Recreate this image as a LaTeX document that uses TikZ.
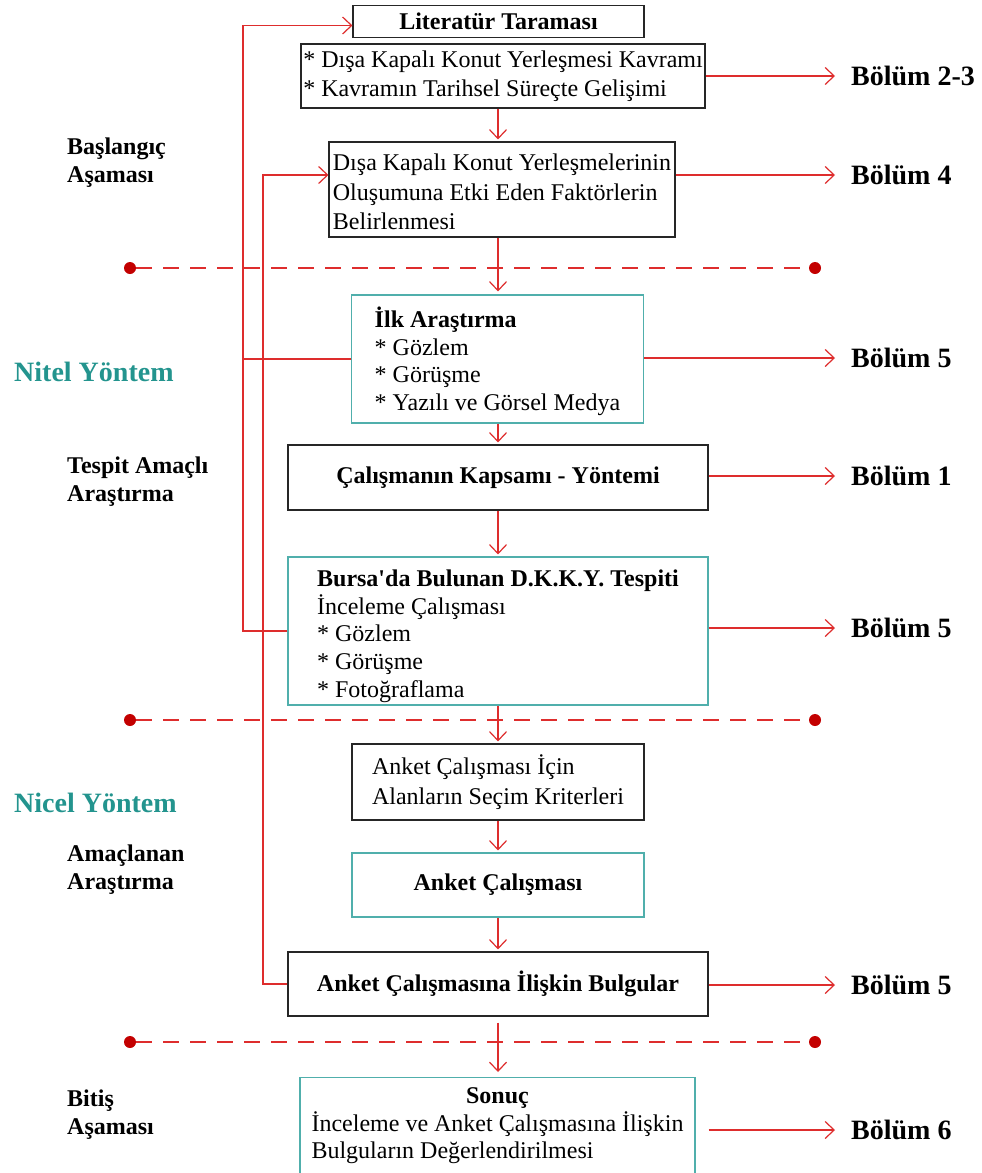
\documentclass[tikz,border=0pt]{standalone}
\usepackage{fontspec}
\setmainfont{Liberation Serif}[Ligatures=TeXOff]
\usetikzlibrary{calc, arrows.meta}
\definecolor{lred}{RGB}{222,45,45}
\definecolor{dred}{RGB}{195,0,0}
\definecolor{tealline}{RGB}{80,175,172}
\definecolor{tealtext}{RGB}{35,148,142}
\tikzset{>={Straight Barb[length=9pt,width=17pt]}}

\begin{document}
\begin{tikzpicture}[
    x = 1pt, y = -1pt,
    box/.style = {draw = black!85, line width = 1.1pt, fill = white, align = left, inner sep = 0pt, font = \fontsize{24}{29.5}\selectfont},
    tbox/.style = {box, draw = tealline, font = \fontsize{24}{27.7}\selectfont},
    bold/.style = {font = \fontsize{24}{29.5}\selectfont\bfseries},
    link/.style = {draw = lred, line width = 1.2pt},
    sep/.style = {draw = lred, line width = 1.2pt, dash pattern = on 16pt off 11pt},
    dot/.style = {circle, fill = dred, inner sep = 0pt, minimum size = 12pt},
    bolum/.style = {anchor = west, inner sep = 0pt, font = \fontsize{28}{30}\selectfont\bfseries},
    phase/.style = {anchor = west, inner sep = 0pt, align = left, font = \fontsize{24}{28}\selectfont\bfseries},
    method/.style = {anchor = west, inner sep = 0pt, text = tealtext, font = \fontsize{28}{30}\selectfont\bfseries},
]
\clip (0,0) rectangle (982,1173);

% column of the vertical arrows, and the two feedback lines
\coordinate (mid) at (498,0);
\coordinate (outer) at (243,0);
\coordinate (inner) at (263,0);

\node[box, bold, minimum width = 291pt, minimum height = 32pt] (lit) at (498.5,21.5) {Literatür Taraması};
\node[box, minimum width = 404pt, minimum height = 64pt] (kav) at (503,76) {* Dışa Kapalı Konut Yerleşmesi Kavramı\\* Kavramın Tarihsel Süreçte Gelişimi};
\node[box, minimum width = 346pt, minimum height = 95pt] (dkf) at (502,189.5) {\rule{0pt}{22pt}Dışa Kapalı Konut Yerleşmelerinin\\Oluşumuna Etki Eden Faktörlerin\\Belirlenmesi};
\node[tbox, minimum width = 292pt, minimum height = 128pt] (ilk) at (497.5,359) {\rule{0pt}{25pt}\textbf{İlk Araştırma}\\* Gözlem\\* Görüşme\\* Yazılı ve Görsel Medya};
\node[box, bold, minimum width = 420pt, minimum height = 65pt] (kap) at (498,477.5) {Çalışmanın Kapsamı - Yöntemi};
\node[tbox, minimum width = 420pt, minimum height = 148pt] (bur) at (498,631) {\rule{0pt}{27pt}\textbf{Bursa'da Bulunan D.K.K.Y. Tespiti}\\İnceleme Çalışması\\* Gözlem\\* Görüşme\\* Fotoğraflama};
\node[box, minimum width = 292pt, minimum height = 76pt] (sec) at (498,782) {Anket Çalışması İçin\\Alanların Seçim Kriterleri};
\node[tbox, bold, minimum width = 292pt, minimum height = 64pt] (ank) at (498,885) {Anket Çalışması};
\node[box, bold, minimum width = 420pt, minimum height = 64pt] (bul) at (498,984) {Anket Çalışmasına İlişkin Bulgular};
\node[tbox, anchor = north, align = center, minimum width = 395pt, inner ysep = 10pt] (son) at (497.5,1077) {\textbf{Sonuç}\\\begin{tabular}[t]{@{}l@{}}İnceleme ve Anket Çalışmasına İlişkin\\Bulguların Değerlendirilmesi\rule[-30pt]{0pt}{30pt}\end{tabular}};

\node[phase] (p1) at (67,163) {Başlangıç\\Aşaması};
\node[method] (m1) at (14,372) {Nitel Yöntem};
\node[phase] (p2) at (67,482) {Tespit Amaçlı\\Araştırma};
\node[method] (m2) at (14,803) {Nicel Yöntem};
\node[phase] (p3) at (67,870) {Amaçlanan\\Araştırma};
\node[phase] (p4) at (67,1115) {Bitiş\\Aşaması};

\node[bolum] (b1) at (851,76) {Bölüm 2-3};
\node[bolum] (b2) at (851,175) {Bölüm 4};
\node[bolum] (b3) at (851,358) {Bölüm 5};
\node[bolum] (b4) at (851,476) {Bölüm 1};
\node[bolum] (b5) at (851,628) {Bölüm 5};
\node[bolum] (b6) at (851,985) {Bölüm 5};
\node[bolum] (b7) at (851,1130) {Bölüm 6};

\node[dot] (d1a) at (130,268) {};
\node[dot] (d1b) at (815,268) {};
\node[dot] (d2a) at (130,720) {};
\node[dot] (d2b) at (815,720) {};
\node[dot] (d3a) at (130,1042) {};
\node[dot] (d3b) at (815,1042) {};
\draw[sep] (d1a) -- (d1b);
\draw[sep] (d2a) -- (d2b);
\draw[sep] (d3a) -- (d3b);

\draw[link, ->, shorten > = 2pt] (kav.south -| mid) -- (dkf.north -| mid);
\draw[link, ->, shorten > = 3pt] (dkf.south -| mid) -- (ilk.north -| mid);
\draw[link, ->, shorten > = 2pt] (ilk.south -| mid) -- (kap.north -| mid);
\draw[link, ->, shorten > = 2pt] (kap.south -| mid) -- (bur.north -| mid);
\draw[link, ->, shorten > = 2pt] (bur.south -| mid) -- (sec.north -| mid);
\draw[link, ->, shorten > = 2pt] (sec.south -| mid) -- (ank.north -| mid);
\draw[link, ->, shorten > = 2pt] (ank.south -| mid) -- (bul.north -| mid);
\draw[link, ->, shorten < = 6pt, shorten > = 5pt] (bul.south -| mid) -- (son.north -| mid);

\draw[link, ->] (bur.west) -- (bur.west -| outer) -- ($(lit.west -| outer)+(0,4)$) -- ($(lit.west)+(0,4)$);
\draw[link] (ilk.west) -- (ilk.west -| outer);
\draw[link, ->] (bul.west) -- (bul.west -| inner) -- (inner |- b2.west) -- (dkf.west |- b2.west);

\draw[link, ->, shorten > = 16pt] (b1.west -| kav.east) -- (b1.west);
\draw[link, ->, shorten > = 16pt] (b2.west -| dkf.east) -- (b2.west);
\draw[link, ->, shorten > = 16pt] (b3.west -| ilk.east) -- (b3.west);
\draw[link, ->, shorten > = 16pt] (b4.west -| kap.east) -- (b4.west);
\draw[link, ->, shorten > = 16pt] (b5.west -| bur.east) -- (b5.west);
\draw[link, ->, shorten > = 16pt] (b6.west -| bul.east) -- (b6.west);
\draw[link, ->, shorten < = 13pt, shorten > = 16pt] (b7.west -| son.east) -- (b7.west);

\end{tikzpicture}
\end{document}
